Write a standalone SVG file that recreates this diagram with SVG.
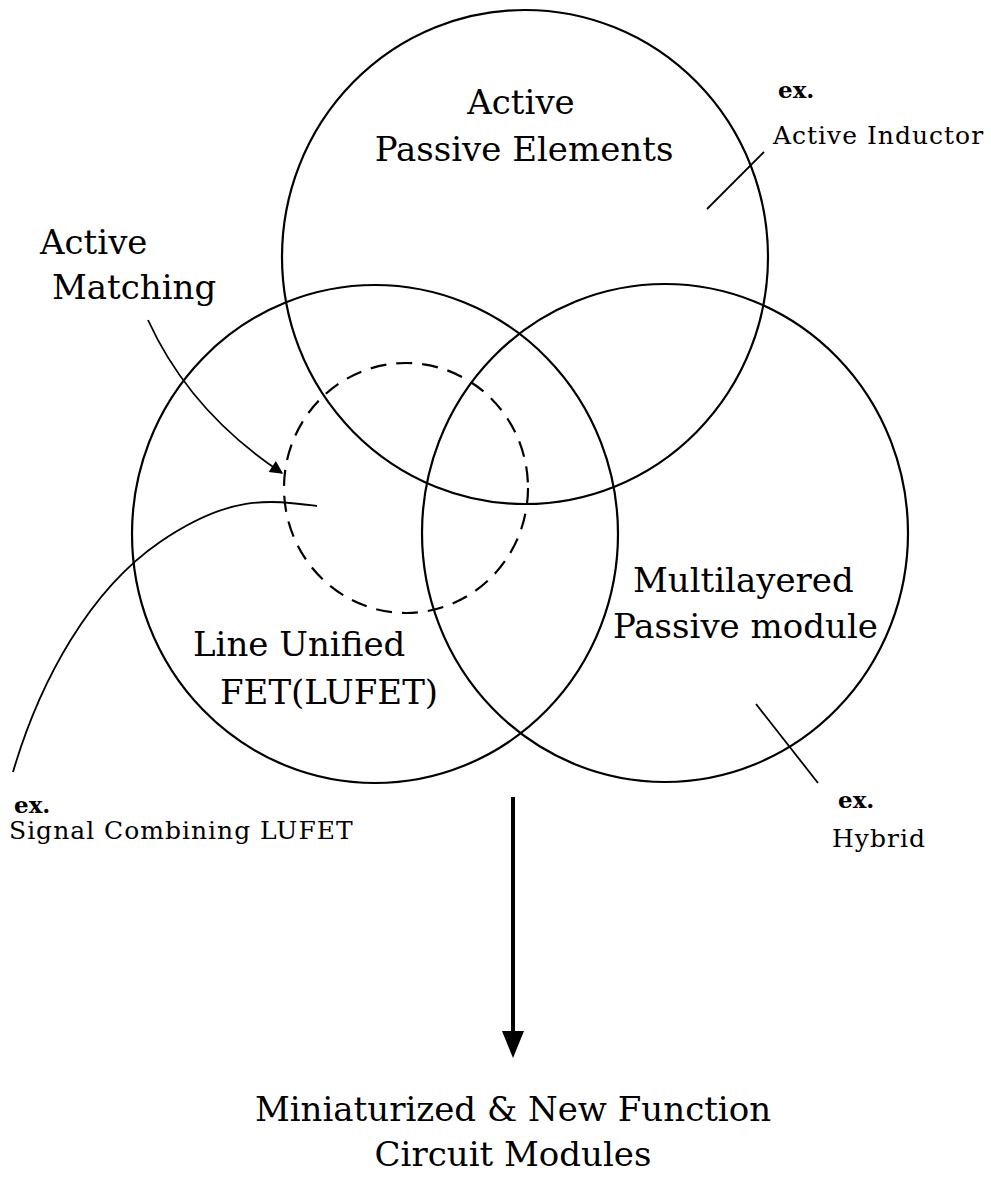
<svg xmlns="http://www.w3.org/2000/svg" width="991" height="1187" viewBox="0 0 991 1187">
<style>
.c{fill:none;stroke:#000;stroke-width:2.2}
.d{fill:none;stroke:#000;stroke-width:2.2;stroke-dasharray:16 10}
.l{fill:none;stroke:#000;stroke-width:1.8}
.t{font-family:"DejaVu Serif","Liberation Serif",serif;font-size:34px;fill:#000}
.s{font-family:"DejaVu Serif","Liberation Serif",serif;font-size:25px;letter-spacing:1px;fill:#000}
.e{font-family:"DejaVu Serif","Liberation Serif",serif;font-size:23px;font-weight:bold;fill:#000}
.m{text-anchor:middle}
</style>
<defs>
<marker id="ah" viewBox="0 0 10 10" refX="9" refY="5" markerWidth="15" markerHeight="13" markerUnits="userSpaceOnUse" orient="auto">
<path d="M0,0 L10,5 L0,10 Z" fill="#000"/>
</marker>
</defs>
<g id="top-circle">
<ellipse class="c" cx="525" cy="257" rx="243" ry="247"/>
<text class="t m" x="521" y="114">Active</text>
<text class="t m" x="524" y="161">Passive Elements</text>
</g>
<g id="left-circle">
<ellipse class="c" cx="375" cy="534" rx="243" ry="249"/>
<text class="t" x="193" y="656">Line Unified</text>
<text class="t" x="220" y="704">FET(LUFET)</text>
</g>
<g id="right-circle">
<ellipse class="c" cx="665" cy="533" rx="243" ry="249"/>
<text class="t" x="633" y="592">Multilayered</text>
<text class="t" x="613" y="638">Passive module</text>
</g>
<g id="dashed-circle">
<ellipse class="d" cx="406" cy="488" rx="122" ry="125"/>
</g>
<g id="active-matching">
<text class="t" x="40" y="254">Active</text>
<text class="t" x="52" y="299">Matching</text>
</g>
<g id="ex-inductor">
<text class="e" x="778" y="98">ex.</text>
<text class="s" x="773" y="144">Active Inductor</text>
</g>
<g id="ex-lufet">
<text class="e" x="14" y="813">ex.</text>
<text class="s" x="9" y="839">Signal Combining LUFET</text>
</g>
<g id="ex-hybrid">
<text class="e" x="838" y="808">ex.</text>
<text class="s" x="832" y="847">Hybrid</text>
</g>
<g id="result">
<text class="t m" x="513" y="1121">Miniaturized &amp; New Function</text>
<text class="t m" x="513" y="1166">Circuit Modules</text>
</g>
<g id="connectors">
<path class="l" d="M148,320 Q190,412 282,473" marker-end="url(#ah)"/>
<path class="l" d="M13,772 C40,680 90,590 160,542 S270,500 317,506"/>
<line class="l" x1="707" y1="209" x2="764" y2="152"/>
<line class="l" x1="756" y1="704" x2="818" y2="783"/>
<line x1="513" y1="797" x2="513" y2="1040" stroke="#000" stroke-width="4"/>
<path d="M502,1031 L524,1031 L513,1058 Z" fill="#000"/>
</g>
</svg>
